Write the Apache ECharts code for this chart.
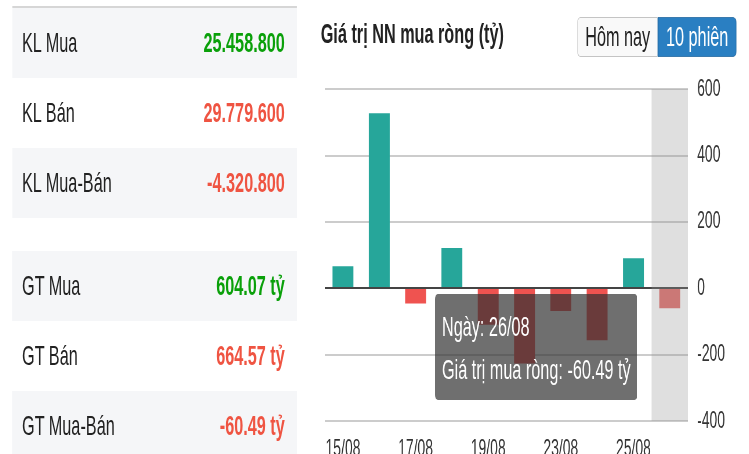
<!DOCTYPE html>
<html>
<head>
<meta charset="utf-8">
<script src="https://cdn.jsdelivr.net/npm/echarts@6/dist/echarts.min.js"></script>
<style>
  html, body { margin: 0; padding: 0; background: #fff; overflow: hidden; }
  /* trang thiet ke o 1291px roi ep ngang lai cho vua 749px */
  #page {
    position: absolute; left: 0; top: 0;
    width: 1291px; height: 454px;
    transform: scaleX(0.58); transform-origin: 0 0;
    font-family: "Liberation Sans", Arial, sans-serif;
  }
  #chart { position: absolute; left: 0; top: 0; width: 1291px; height: 454px; }
  .block { position: absolute; left: 21px; width: 491px; z-index: 2; }
  .block.first { top: 6px; border-top: 2px solid #d6d6d6; }
  .block.second { top: 251px; }
  .row {
    height: 70px; display: flex; align-items: center; justify-content: space-between;
    padding: 0 21px 0 17px; font-size: 28px; color: #222;
  }
  .row:nth-child(odd) { background: #f5f6f8; }
  .row b { font-weight: bold; }
  .up { color: #0aa00a; }
  .down { color: #ef5442; }
  .title {
    position: absolute; left: 553px; top: 16px; z-index: 2;
    font-size: 28px; font-weight: bold; color: #222; line-height: 36px;
  }
  .btns { position: absolute; left: 995px; top: 17px; z-index: 2; display: flex; }
  .btns div {
    height: 38px; line-height: 38px; font-size: 28px; text-align: center;
    border: 1px solid #c4c4c4;
  }
  .btns .off { width: 138px; background: #f9f9f9; color: #222; border-radius: 6px 0 0 6px; border-right: none; }
  .btns .on { width: 134px; background: #2a7fc2; color: #fff; border-color: #2468a0; border-radius: 0 6px 6px 0; }
</style>
</head>
<body>
<div id="page">
  <div id="chart"></div>
  <div class="block first" id="blockKL"></div>
  <div class="block second" id="blockGT"></div>
  <div class="title">Giá trị NN mua ròng (tỷ)</div>
  <div class="btns"><div class="off">Hôm nay</div><div class="on">10 phiên</div></div>
</div>
<script>
// bang tong hop
var klLabels = ["KL Mua", "KL Bán", "KL Mua-Bán"];
var klValues = ["25.458.800", "29.779.600", "-4.320.800"];
var klSide = ["up", "down", "down"];
var gtLabels = ["GT Mua", "GT Bán", "GT Mua-Bán"];
var gtValues = ["604.07 tỷ", "664.57 tỷ", "-60.49 tỷ"];
var gtSide = ["up", "down", "down"];

// bieu do 10 phien
var categories = ["15/08", "16/08", "17/08", "18/08", "19/08", "22/08", "23/08", "24/08", "25/08", "26/08"];
var netValues = [66, 527, -46, 121, -110, -227, -69, -157, 90, -60.49];
var yMin = -400;
var yMax = 600;
var yStep = 200;
var activeIndex = 9;

function fillBlock(id, labels, values, side) {
  var html = "";
  for (var i = 0; i < labels.length; i++) {
    html += '<div class="row"><span>' + labels[i] + '</span><b class="' + side[i] + '">' + values[i] + "</b></div>";
  }
  document.getElementById(id).innerHTML = html;
}
fillBlock("blockKL", klLabels, klValues, klSide);
fillBlock("blockGT", gtLabels, gtValues, gtSide);

var myChart = echarts.init(document.getElementById("chart"));
var font = "Liberation Sans";

myChart.setOption({
  animation: false,
  grid: { left: 560, right: 105, top: 89, bottom: 33, outerBoundsMode: "none" },
  tooltip: {
    trigger: "axis",
    triggerOn: "none",
    alwaysShowContent: true,
    transitionDuration: 0,
    position: [750, 294],
    backgroundColor: "rgba(50,50,50,0.7)",
    borderWidth: 0,
    padding: [11, 12, 9, 12],
    textStyle: { color: "#fff", fontSize: 28, fontFamily: font },
    extraCssText: "box-shadow:none;border-radius:5px;line-height:43px;",
    axisPointer: {
      type: "shadow",
      shadowStyle: { color: "rgba(150,150,150,0.3)" }
    },
    formatter: function (arg) {
      var v = arg[0].value;
      return "Ngày: " + arg[0].name + "<br/>Giá trị mua ròng: " + v.toFixed(2) + " tỷ";
    }
  },
  xAxis: {
    type: "category",
    data: categories,
    axisLine: { show: false, onZero: false },
    axisTick: { show: false },
    axisLabel: { interval: 1, margin: 16, fontSize: 24, color: "#333", fontFamily: font }
  },
  yAxis: {
    type: "value",
    position: "right",
    min: yMin,
    max: yMax,
    interval: yStep,
    axisLine: { show: false },
    axisTick: { show: false },
    axisLabel: { margin: 16, fontSize: 24, color: "#333", fontFamily: font },
    splitLine: { lineStyle: { color: "#ccc", width: 2 } }
  },
  series: [
    {
      name: "Giá trị mua ròng",
      type: "bar",
      barWidth: 36,
      data: netValues.map(function (v, i) {
        var c = v >= 0 ? "#26a69a" : "#ef5350";
        if (i === activeIndex) c = "#e36c69";
        return { value: v, itemStyle: { color: c } };
      }),
      emphasis: { disabled: true },
      markLine: {
        silent: true,
        symbol: "none",
        label: { show: false },
        lineStyle: { color: "#444", width: 2, type: "solid" },
        data: [{ yAxis: 0 }]
      }
    }
  ]
});

myChart.dispatchAction({ type: "showTip", seriesIndex: 0, dataIndex: activeIndex });
</script>
</body>
</html>
